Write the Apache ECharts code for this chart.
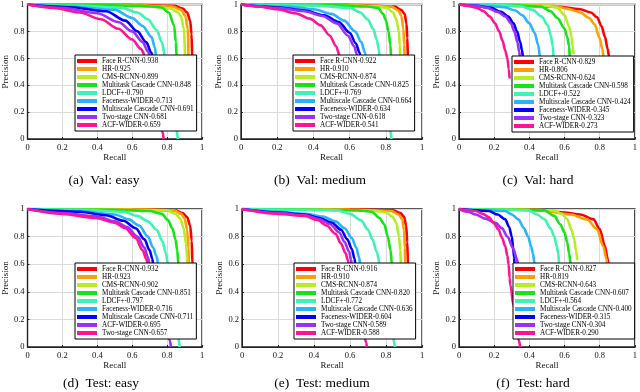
<!DOCTYPE html>
<html>
<head>
<meta charset="utf-8">
<script src="https://cdn.jsdelivr.net/npm/echarts@6/dist/echarts.min.js"></script>
<style>
  html, body { margin: 0; padding: 0; background: #fff; }
  #chart { width: 640px; height: 392px; }
</style>
</head>
<body>
<div id="chart"></div>
<script>
// colours by rank in each legend
const rankColors = ['#ff0000', '#ffa000', '#b4f01e', '#14e614', '#3cf5b4', '#28b4ff', '#0000ff', '#9b30ff', '#ff1493'];
const captions = ['(a)  Val: easy', '(b)  Val: medium', '(c)  Val: hard', '(d)  Test: easy', '(e)  Test: medium', '(f)  Test: hard'];

// (a) Val: easy
const valEasyNames = ['Face R-CNN-0.938', 'HR-0.925', 'CMS-RCNN-0.899', 'Multitask Cascade CNN-0.848', 'LDCF+-0.790',
  'Faceness-WIDER-0.713', 'Multiscale Cascade CNN-0.691', 'Two-stage CNN-0.681', 'ACF-WIDER-0.659'];
const valEasyCurves = [
  [[0,1],[0.6,0.998],[0.84,0.99],[0.89,0.97],[0.915,0.94],[0.932,0.88],[0.94,0.78],[0.944,0.6],[0.948,0.4],[0.952,0.25]],
  [[0,1],[0.6,0.997],[0.83,0.985],[0.88,0.96],[0.905,0.915],[0.918,0.82],[0.924,0.6],[0.928,0.4],[0.932,0.28]],
  [[0,1],[0.4,0.995],[0.7,0.985],[0.82,0.97],[0.86,0.945],[0.88,0.91],[0.896,0.82],[0.905,0.6],[0.91,0.4],[0.915,0.3]],
  [[0,1],[0.4,0.995],[0.65,0.99],[0.765,0.98],[0.81,0.94],[0.84,0.845],[0.85,0.72],[0.855,0.6],[0.86,0.4],[0.865,0.3]],
  [[0,1],[0.3,0.99],[0.54,0.975],[0.63,0.94],[0.69,0.89],[0.74,0.81],[0.77,0.72],[0.79,0.6],[0.81,0.4],[0.84,0.15],[0.862,0]],
  [[0,1],[0.25,0.985],[0.5,0.96],[0.6,0.9],[0.66,0.84],[0.71,0.76],[0.73,0.68],[0.738,0.6],[0.745,0.4],[0.75,0.3]],
  [[0,1],[0.25,0.98],[0.45,0.95],[0.56,0.88],[0.63,0.8],[0.68,0.72],[0.71,0.64],[0.72,0.6],[0.725,0.4],[0.73,0.3]],
  [[0,1],[0.2,0.975],[0.4,0.935],[0.52,0.87],[0.6,0.8],[0.66,0.72],[0.69,0.65],[0.705,0.6],[0.71,0.4],[0.715,0.3]],
  [[0,1],[0.15,0.975],[0.3,0.94],[0.42,0.89],[0.52,0.82],[0.6,0.74],[0.65,0.67],[0.68,0.6],[0.7,0.45],[0.74,0.25],[0.775,0.05],[0.78,0]]
];

// (b) Val: medium
const valMediumNames = ['Face R-CNN-0.922', 'HR-0.910', 'CMS-RCNN-0.874', 'Multitask Cascade CNN-0.825', 'LDCF+-0.769',
  'Multiscale Cascade CNN-0.664', 'Faceness-WIDER-0.634', 'Two-stage CNN-0.618', 'ACF-WIDER-0.541'];
const valMediumCurves = [
  [[0,1],[0.6,0.997],[0.85,0.985],[0.885,0.96],[0.904,0.93],[0.914,0.86],[0.919,0.75],[0.922,0.6],[0.926,0.4],[0.93,0.3]],
  [[0,1],[0.6,0.996],[0.83,0.985],[0.87,0.955],[0.886,0.915],[0.897,0.82],[0.902,0.7],[0.904,0.6],[0.908,0.4],[0.912,0.3]],
  [[0,1],[0.5,0.995],[0.75,0.985],[0.81,0.975],[0.84,0.94],[0.858,0.89],[0.872,0.8],[0.877,0.7],[0.88,0.6],[0.884,0.4],[0.888,0.3]],
  [[0,1],[0.5,0.995],[0.7,0.985],[0.757,0.975],[0.785,0.93],[0.8,0.885],[0.815,0.8],[0.825,0.7],[0.83,0.6],[0.834,0.4],[0.838,0.3]],
  [[0,1],[0.4,0.993],[0.6,0.975],[0.66,0.94],[0.7,0.89],[0.73,0.82],[0.75,0.74],[0.762,0.66],[0.766,0.6],[0.78,0.4],[0.81,0.15],[0.832,0]],
  [[0,1],[0.25,0.985],[0.4,0.965],[0.5,0.93],[0.57,0.88],[0.63,0.8],[0.665,0.72],[0.685,0.64],[0.69,0.6],[0.695,0.4],[0.7,0.3]],
  [[0,1],[0.2,0.98],[0.35,0.955],[0.46,0.92],[0.54,0.87],[0.6,0.79],[0.635,0.71],[0.655,0.64],[0.663,0.6],[0.668,0.4],[0.672,0.3]],
  [[0,1],[0.2,0.975],[0.35,0.95],[0.45,0.915],[0.53,0.86],[0.59,0.77],[0.625,0.69],[0.64,0.63],[0.645,0.6],[0.65,0.4],[0.655,0.3]],
  [[0,1],[0.1,0.985],[0.2,0.965],[0.3,0.935],[0.38,0.895],[0.44,0.845],[0.49,0.77],[0.525,0.69],[0.545,0.62],[0.555,0.6],[0.56,0.4],[0.565,0.3]]
];

// (c) Val: hard
const valHardNames = ['Face R-CNN-0.829', 'HR-0.806', 'CMS-RCNN-0.624', 'Multitask Cascade CNN-0.598', 'LDCF+-0.522',
  'Multiscale Cascade CNN-0.424', 'Faceness-WIDER-0.345', 'Two-stage CNN-0.323', 'ACF-WIDER-0.273'];
const valHardCurves = [
  [[0,1],[0.3,0.995],[0.55,0.985],[0.69,0.965],[0.75,0.94],[0.785,0.905],[0.81,0.84],[0.83,0.76],[0.845,0.67],[0.855,0.6],[0.86,0.5]],
  [[0,1],[0.3,0.995],[0.54,0.99],[0.63,0.965],[0.69,0.94],[0.74,0.9],[0.77,0.855],[0.8,0.75],[0.815,0.67],[0.823,0.6],[0.828,0.5]],
  [[0,1],[0.3,0.997],[0.5,0.99],[0.56,0.975],[0.6,0.92],[0.625,0.84],[0.64,0.76],[0.648,0.68],[0.652,0.63]],
  [[0,1],[0.3,0.995],[0.467,0.985],[0.52,0.95],[0.56,0.9],[0.6,0.82],[0.615,0.76],[0.626,0.69],[0.63,0.6],[0.633,0.5]],
  [[0,1],[0.25,0.995],[0.356,0.985],[0.42,0.96],[0.47,0.91],[0.505,0.845],[0.522,0.77],[0.533,0.69],[0.538,0.6],[0.54,0.5]],
  [[0,1],[0.15,0.99],[0.26,0.98],[0.32,0.955],[0.36,0.92],[0.4,0.86],[0.43,0.79],[0.45,0.7],[0.462,0.6],[0.465,0.5]],
  [[0,1],[0.1,0.99],[0.18,0.975],[0.24,0.945],[0.28,0.91],[0.31,0.86],[0.33,0.8],[0.348,0.72],[0.358,0.66],[0.365,0.6],[0.368,0.5]],
  [[0,1],[0.1,0.99],[0.16,0.975],[0.22,0.945],[0.265,0.91],[0.295,0.86],[0.315,0.8],[0.332,0.72],[0.342,0.65],[0.347,0.6],[0.35,0.5]],
  [[0,1],[0.05,0.99],[0.1,0.975],[0.14,0.95],[0.175,0.91],[0.205,0.86],[0.228,0.8],[0.248,0.73],[0.262,0.66],[0.275,0.6],[0.283,0.52],[0.288,0.45]]
];

// (d) Test: easy
const testEasyNames = ['Face R-CNN-0.932', 'HR-0.923', 'CMS-RCNN-0.902', 'Multitask Cascade CNN-0.851', 'LDCF+-0.797',
  'Faceness-WIDER-0.716', 'Multiscale Cascade CNN-0.711', 'ACF-WIDER-0.695', 'Two-stage CNN-0.657'];
const testEasyCurves = [
  [[0,1],[0.6,0.998],[0.85,0.99],[0.89,0.97],[0.915,0.94],[0.932,0.88],[0.941,0.77],[0.945,0.6],[0.948,0.4],[0.952,0.3]],
  [[0,1],[0.6,0.997],[0.84,0.99],[0.88,0.965],[0.9,0.93],[0.915,0.85],[0.922,0.72],[0.925,0.6],[0.928,0.4],[0.932,0.3]],
  [[0,1],[0.5,0.995],[0.8,0.99],[0.85,0.965],[0.875,0.93],[0.895,0.86],[0.908,0.75],[0.914,0.65],[0.916,0.6],[0.92,0.4],[0.924,0.3]],
  [[0,1],[0.5,0.995],[0.7,0.985],[0.77,0.965],[0.805,0.92],[0.83,0.86],[0.848,0.78],[0.858,0.7],[0.865,0.6],[0.868,0.4],[0.872,0.3]],
  [[0,1],[0.3,0.995],[0.55,0.98],[0.63,0.95],[0.69,0.91],[0.74,0.85],[0.772,0.77],[0.793,0.68],[0.805,0.6],[0.82,0.4],[0.85,0.15],[0.872,0]],
  [[0,1],[0.3,0.985],[0.5,0.96],[0.58,0.925],[0.64,0.88],[0.69,0.8],[0.72,0.72],[0.738,0.66],[0.75,0.6],[0.755,0.4],[0.76,0.3]],
  [[0,1],[0.3,0.98],[0.45,0.955],[0.55,0.915],[0.62,0.86],[0.67,0.78],[0.7,0.7],[0.715,0.64],[0.72,0.6],[0.725,0.4],[0.73,0.3]],
  [[0,1],[0.2,0.97],[0.4,0.945],[0.5,0.91],[0.57,0.87],[0.63,0.8],[0.67,0.72],[0.69,0.65],[0.7,0.6],[0.73,0.4],[0.78,0.2],[0.815,0.05],[0.822,0]],
  [[0,1],[0.2,0.965],[0.39,0.935],[0.5,0.9],[0.56,0.86],[0.62,0.79],[0.66,0.7],[0.68,0.64],[0.69,0.6],[0.695,0.4],[0.7,0.3]]
];

// (e) Test: medium
const testMediumNames = ['Face R-CNN-0.916', 'HR-0.910', 'CMS-RCNN-0.874', 'Multitask Cascade CNN-0.820', 'LDCF+-0.772',
  'Multiscale Cascade CNN-0.636', 'Faceness-WIDER-0.604', 'Two-stage CNN-0.589', 'ACF-WIDER-0.588'];
const testMediumCurves = [
  [[0,1],[0.6,0.997],[0.84,0.99],[0.88,0.97],[0.9,0.945],[0.912,0.88],[0.918,0.76],[0.922,0.6],[0.925,0.4],[0.93,0.3]],
  [[0,1],[0.6,0.996],[0.83,0.985],[0.87,0.96],[0.89,0.925],[0.9,0.85],[0.905,0.72],[0.907,0.6],[0.91,0.4],[0.914,0.3]],
  [[0,1],[0.5,0.995],[0.75,0.985],[0.8,0.975],[0.835,0.945],[0.858,0.9],[0.872,0.8],[0.879,0.7],[0.883,0.6],[0.886,0.4],[0.89,0.3]],
  [[0,1],[0.45,0.995],[0.65,0.99],[0.72,0.98],[0.765,0.935],[0.79,0.89],[0.81,0.8],[0.825,0.7],[0.833,0.6],[0.836,0.4],[0.84,0.3]],
  [[0,1],[0.3,0.995],[0.53,0.99],[0.6,0.965],[0.66,0.92],[0.7,0.85],[0.725,0.78],[0.748,0.69],[0.766,0.6],[0.785,0.4],[0.82,0.15],[0.85,0]],
  [[0,1],[0.2,0.98],[0.35,0.965],[0.45,0.945],[0.52,0.91],[0.57,0.86],[0.61,0.79],[0.635,0.72],[0.65,0.65],[0.657,0.6],[0.66,0.4],[0.665,0.3]],
  [[0,1],[0.2,0.975],[0.35,0.96],[0.43,0.935],[0.5,0.9],[0.55,0.85],[0.585,0.78],[0.61,0.71],[0.625,0.64],[0.63,0.6],[0.633,0.4],[0.638,0.3]],
  [[0,1],[0.2,0.97],[0.35,0.955],[0.43,0.925],[0.49,0.89],[0.54,0.83],[0.57,0.76],[0.595,0.69],[0.606,0.63],[0.61,0.6],[0.613,0.4],[0.617,0.3]],
  [[0,1],[0.2,0.965],[0.35,0.95],[0.42,0.92],[0.47,0.88],[0.52,0.82],[0.55,0.75],[0.575,0.68],[0.588,0.63],[0.594,0.6],[0.62,0.4],[0.67,0.15],[0.69,0.03],[0.694,0]]
];

// (f) Test: hard
const testHardNames = ['Face R-CNN-0.827', 'HR-0.819', 'CMS-RCNN-0.643', 'Multitask Cascade CNN-0.607', 'LDCF+-0.564',
  'Multiscale Cascade CNN-0.400', 'Faceness-WIDER-0.315', 'Two-stage CNN-0.304', 'ACF-WIDER-0.290'];
const testHardCurves = [
  [[0,1],[0.4,0.995],[0.6,0.975],[0.69,0.96],[0.765,0.925],[0.8,0.855],[0.83,0.73],[0.845,0.64],[0.85,0.6],[0.855,0.5]],
  [[0,1],[0.3,0.997],[0.45,0.993],[0.635,0.96],[0.728,0.925],[0.784,0.855],[0.82,0.73],[0.838,0.64],[0.845,0.59],[0.85,0.5]],
  [[0,1],[0.4,0.995],[0.54,0.99],[0.585,0.965],[0.616,0.925],[0.64,0.85],[0.655,0.78],[0.665,0.7],[0.672,0.63]],
  [[0,1],[0.3,0.995],[0.486,0.99],[0.542,0.95],[0.575,0.89],[0.6,0.83],[0.615,0.76],[0.626,0.68],[0.635,0.6],[0.64,0.5]],
  [[0,1],[0.25,0.995],[0.393,0.99],[0.445,0.96],[0.486,0.925],[0.52,0.86],[0.542,0.8],[0.556,0.73],[0.564,0.68],[0.57,0.6],[0.573,0.5]],
  [[0,1],[0.15,0.99],[0.263,0.985],[0.3,0.96],[0.337,0.925],[0.37,0.86],[0.393,0.8],[0.41,0.73],[0.42,0.68],[0.43,0.6],[0.433,0.5]],
  [[0,1],[0.1,0.99],[0.17,0.985],[0.22,0.96],[0.263,0.925],[0.285,0.87],[0.3,0.8],[0.308,0.72],[0.313,0.65],[0.316,0.6],[0.32,0.5]],
  [[0,1],[0.05,0.98],[0.095,0.96],[0.15,0.93],[0.207,0.9],[0.245,0.86],[0.275,0.8],[0.31,0.71],[0.328,0.64],[0.337,0.6],[0.34,0.5]],
  [[0,1],[0.05,0.993],[0.095,0.985],[0.135,0.965],[0.17,0.94],[0.2,0.895],[0.225,0.85],[0.245,0.79],[0.263,0.73],[0.275,0.66],[0.282,0.6],[0.288,0.5],[0.292,0.45],[0.31,0.3],[0.34,0.05],[0.348,0]]
];

const panelNames = [valEasyNames, valMediumNames, valHardNames, testEasyNames, testMediumNames, testHardNames];
const panelCurves = [valEasyCurves, valMediumCurves, valHardCurves, testEasyCurves, testMediumCurves, testHardCurves];

// layout (px)
const gridBoxes = [
  {left: 23, top: 2, width: 179, height: 137},
  {left: 241, top: 2, width: 181, height: 137},
  {left: 459, top: 2, width: 179, height: 137},
  {left: 23, top: 209, width: 179, height: 138},
  {left: 242, top: 209, width: 180, height: 138},
  {left: 459, top: 209, width: 179, height: 138}
];
const legendPos = [
  {left: 75, top: 55}, {left: 293, top: 55}, {left: 512, top: 56},
  {left: 75, top: 263}, {left: 294, top: 263}, {left: 513, top: 263}
];
const captionPos = [[104, 180], [320, 180], [538, 180], [101, 383], [322, 383], [533, 383]];

const serif = 'Liberation Serif, Times New Roman, serif';
const chart = echarts.init(document.getElementById('chart'), null, {renderer: 'canvas'});

const grid = [], xAxis = [], yAxis = [], legend = [], series = [], graphic = [];
gridBoxes.forEach((g, i) => {
  grid.push(Object.assign({show: true, borderColor: '#222', borderWidth: 1.4, backgroundColor: '#fff'}, g));
  const axisCommon = {
    gridIndex: i,
    type: 'value',
    min: 0,
    max: 1,
    interval: 0.2,
    nameLocation: 'middle',
    nameTextStyle: {fontFamily: serif, fontSize: 9, color: '#111'},
    axisLine: {show: true, lineStyle: {color: '#222', width: 1}},
    axisTick: {show: true, inside: true, length: 2, lineStyle: {color: '#222'}},
    splitLine: {show: true, lineStyle: {color: '#dadada', width: 1}}
  };
  xAxis.push(Object.assign({}, axisCommon, {
    name: 'Recall', nameGap: 13,
    axisLabel: {fontFamily: serif, fontSize: 8.5, color: '#111', margin: 4}
  }));
  yAxis.push(Object.assign({}, axisCommon, {
    name: 'Precision', nameGap: 14,
    axisLabel: {fontFamily: serif, fontSize: 8.5, color: '#111', margin: 3}
  }));
  legend.push({
    data: panelNames[i],
    left: legendPos[i].left,
    top: legendPos[i].top,
    orient: 'vertical',
    icon: 'rect',
    itemWidth: 20,
    itemHeight: 4,
    itemGap: 0,
    itemTextGap: 2,
    padding: [2, 3, 2, 2],
    backgroundColor: '#fff',
    borderColor: '#000',
    borderWidth: 1,
    borderRadius: 0,
    selectedMode: false,
    textStyle: {fontFamily: serif, fontSize: 7.2, lineHeight: 8, color: '#000'}
  });
  panelCurves[i].forEach((pts, j) => {
    series.push({
      type: 'line',
      name: panelNames[i][j],
      xAxisIndex: i,
      yAxisIndex: i,
      data: pts,
      showSymbol: false,
      smooth: 0.3,
      smoothMonotone: 'x',
      silent: true,
      lineStyle: {width: 2.6, color: rankColors[j]},
      itemStyle: {color: rankColors[j]}
    });
  });
  graphic.push({
    type: 'text',
    x: captionPos[i][0],
    y: captionPos[i][1],
    style: {
      text: captions[i],
      font: '13.5px ' + serif,
      fill: '#000',
      textAlign: 'center',
      textVerticalAlign: 'middle',
      align: 'center',
      verticalAlign: 'middle'
    }
  });
});

chart.setOption({
  animation: false,
  backgroundColor: '#fff',
  grid, xAxis, yAxis, legend, series, graphic
});
</script>
</body>
</html>
